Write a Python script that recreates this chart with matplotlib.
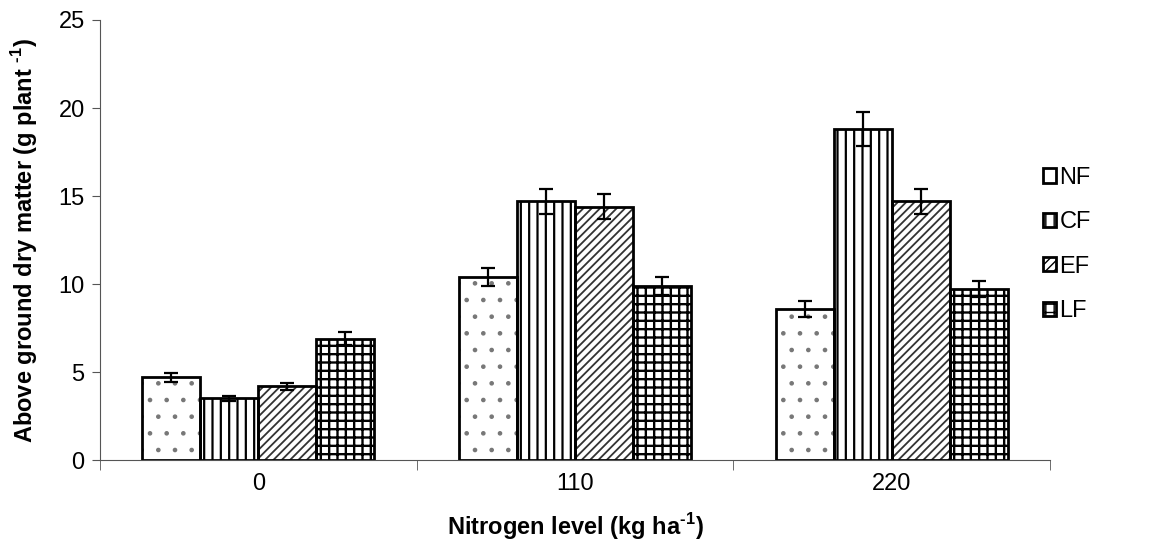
import numpy as np
import matplotlib
matplotlib.use("Agg")
import matplotlib.pyplot as plt

plt.rcParams['font.family'] = ['Liberation Sans', 'DejaVu Sans']
plt.rcParams['mathtext.fontset'] = 'custom'
plt.rcParams['mathtext.rm'] = 'Liberation Sans:bold'
plt.rcParams['mathtext.bf'] = 'Liberation Sans:bold'

# data
levels = ["0", "110", "220"]
series = ["NF", "CF", "EF", "LF"]
nf = [4.7, 10.4, 8.6]
cf = [3.5, 14.7, 18.8]
ef = [4.2, 14.4, 14.7]
lf = [6.9, 9.9, 9.7]
nf_err = [0.25, 0.5, 0.45]
cf_err = [0.15, 0.7, 0.95]
ef_err = [0.2, 0.7, 0.7]
lf_err = [0.35, 0.5, 0.45]

values = [nf, cf, ef, lf]
errors = [nf_err, cf_err, ef_err, lf_err]
hatches = ['.', '||', '////', '++']
hatch_col = ['#777777', 'black', '#333333', 'black']
hatch_lw = [0.9, 1.6, 1.3, 1.7]

fig = plt.figure(figsize=(11.49, 5.55), dpi=100)
ax = fig.add_axes([0.087, 0.171, 0.827, 0.793])

x = np.arange(len(levels))
w = 0.183
for i, (vals, errs) in enumerate(zip(values, errors)):
    pos = x + (i - 1.5) * w
    with plt.rc_context({'hatch.linewidth': hatch_lw[i]}):
        ax.bar(pos, vals, w, color='white', edgecolor=hatch_col[i], linewidth=0,
               hatch=hatches[i], zorder=2)
    ax.bar(pos, vals, w, fill=False, edgecolor='black', linewidth=2, zorder=2.5)
    ax.errorbar(pos, vals, yerr=errs, fmt='none', ecolor='black',
                elinewidth=1.6, capsize=5, capthick=1.6, zorder=3)

# legend proxies
handles = []
for i in range(len(series)):
    with plt.rc_context({'hatch.linewidth': hatch_lw[i]}):
        h = plt.Rectangle((0, 0), 1, 1, facecolor='white', edgecolor='black',
                          linewidth=2, hatch=hatches[i])
    handles.append(h)

ax.set_xlim(-0.5, 2.5)
ax.set_ylim(0, 25)
ax.set_yticks([0, 5, 10, 15, 20, 25])
ax.set_xticks(x)
ax.set_xticklabels(levels)
ax.set_xticks([-0.5, 0.5, 1.5, 2.5], minor=True)
ax.tick_params(axis='x', which='major', length=0, pad=9, labelsize=17)
ax.tick_params(axis='x', which='minor', length=7, color='#555555')
ax.tick_params(axis='y', length=6, color='#555555', labelsize=17, pad=5)

for s in ['top', 'right']:
    ax.spines[s].set_visible(False)
for s in ['left', 'bottom']:
    ax.spines[s].set_color('#555555')

ax.set_ylabel(r'Above ground dry matter (g plant $^{\text{-1}}$)',
              fontsize=17, fontweight='bold', labelpad=13)
ax.set_xlabel(r'Nitrogen level (kg ha$^{\text{-1}}$)',
              fontsize=17, fontweight='bold', labelpad=12)

ax.legend(handles, series, loc='center left', bbox_to_anchor=(0.97, 0.49),
          frameon=False, fontsize=17, handlelength=0.55, handleheight=0.55,
          handletextpad=0.15, labelspacing=0.95)

fig.savefig('out.png', dpi=100)
